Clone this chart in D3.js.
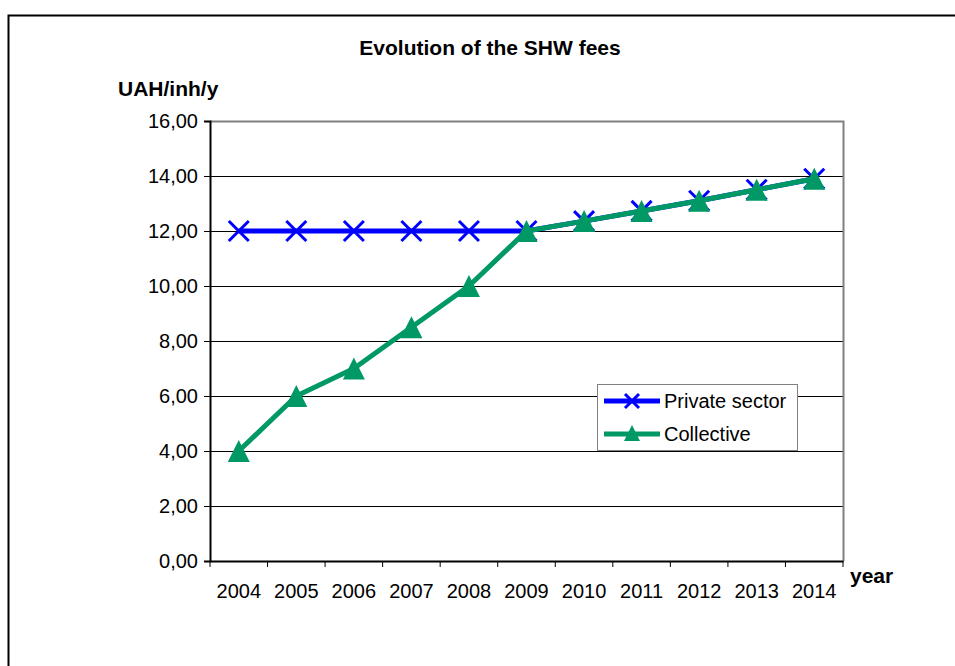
<!DOCTYPE html>
<html>
<head>
<meta charset="utf-8">
<script src="https://cdn.jsdelivr.net/npm/d3@7/dist/d3.min.js"></script>
<style>
  html, body { margin: 0; padding: 0; background: #fff; }
  svg { display: block; font-family: "Liberation Sans", Arial, sans-serif; }
</style>
</head>
<body>
<svg id="chart" width="955" height="666"></svg>
<script>
// Solid household waste fees, UAH per inhabitant per year
const years = ["2004", "2005", "2006", "2007", "2008", "2009", "2010", "2011", "2012", "2013", "2014"];
const privateSector = [12, 12, 12, 12, 12, 12, 12.36, 12.73, 13.1, 13.5, 13.9];
const collective = [4, 6, 7, 8.5, 10, 12, 12.36, 12.73, 13.1, 13.5, 13.9];
const yTicks = [0, 2, 4, 6, 8, 10, 12, 14, 16];

const series = [
  { name: "Private sector", values: privateSector, color: "#0000ff", marker: "x" },
  { name: "Collective", values: collective, color: "#009966", marker: "tri" }
];

const svg = d3.select("#chart");
const plot = { left: 210, right: 843, top: 121, bottom: 561 };
const FONT = "Liberation Sans, Arial, sans-serif";

// outer chart frame
svg.append("rect")
  .attr("x", 8.5).attr("y", 15.5)
  .attr("width", 1000).attr("height", 700)
  .attr("fill", "none").attr("stroke", "#000").attr("stroke-width", 2);

const x = d3.scaleBand().domain(years).range([plot.left, plot.right]).padding(0);
const y = d3.scaleLinear().domain([0, 16]).range([plot.bottom, plot.top]);

// horizontal gridlines
svg.append("g")
  .selectAll("line")
  .data(yTicks.filter(v => v > 0 && v < 16))
  .join("line")
  .attr("x1", plot.left).attr("x2", plot.right)
  .attr("y1", d => Math.round(y(d)) + 0.5).attr("y2", d => Math.round(y(d)) + 0.5)
  .attr("stroke", "#000").attr("stroke-width", 1);

// plot area top/right border
svg.append("path")
  .attr("d", `M${plot.left},${plot.top + 0.5}H${plot.right + 0.5}V${plot.bottom}`)
  .attr("fill", "none").attr("stroke", "#808080").attr("stroke-width", 2);

// y axis
const yAxis = svg.append("g")
  .attr("transform", `translate(${plot.left},0)`)
  .call(d3.axisLeft(y).tickValues(yTicks).tickSize(6).tickPadding(6)
    .tickFormat(d => d3.format(".2f")(d).replace(".", ",")));
yAxis.select(".domain").attr("stroke", "#000").attr("stroke-width", 2);
yAxis.selectAll(".tick line").attr("stroke", "#000");
yAxis.selectAll("text").attr("font-size", 20).attr("fill", "#000")
  .attr("font-family", FONT);

// x axis with ticks at category boundaries
const xAxis = svg.append("g")
  .attr("transform", `translate(0,${plot.bottom})`)
  .call(d3.axisBottom(x).tickSize(0).tickPadding(23));
xAxis.select(".domain").attr("stroke", "#000").attr("stroke-width", 2);
xAxis.selectAll("text").attr("font-size", 20).attr("fill", "#000")
  .attr("font-family", FONT);
xAxis.selectAll("line.boundary")
  .data(d3.range(years.length + 1))
  .join("line")
  .attr("class", "boundary")
  .attr("x1", i => plot.left + i * x.bandwidth()).attr("x2", i => plot.left + i * x.bandwidth())
  .attr("y1", 0).attr("y2", 6)
  .attr("stroke", "#000").attr("stroke-width", 1);

const cx = i => x(years[i]) + x.bandwidth() / 2;
const line = d3.line().x((d, i) => cx(i)).y(d => y(d));

function drawMarker(g, type, color) {
  if (type === "x") {
    g.append("path").attr("d", "M-10,-10L10,10M-10,10L10,-10")
      .attr("stroke", color).attr("stroke-width", 3).attr("fill", "none");
  } else {
    g.append("path").attr("d", "M0,-11L11,11L-11,11Z").attr("fill", color);
  }
}

series.forEach(s => {
  svg.append("path")
    .datum(s.values)
    .attr("d", line)
    .attr("fill", "none").attr("stroke", s.color).attr("stroke-width", 5)
    .attr("stroke-linejoin", "round");
  s.values.forEach((v, i) => {
    const g = svg.append("g").attr("transform", `translate(${cx(i)},${y(v)})`);
    drawMarker(g, s.marker, s.color);
  });
});

// titles
svg.append("text").attr("x", 490).attr("y", 55).attr("text-anchor", "middle")
  .attr("font-size", 21).attr("font-weight", "bold").text("Evolution of the SHW fees");
svg.append("text").attr("x", 118).attr("y", 96)
  .attr("font-size", 21).attr("font-weight", "bold").text("UAH/inh/y");
svg.append("text").attr("x", 850).attr("y", 583)
  .attr("font-size", 21).attr("font-weight", "bold").text("year");

// legend
const legend = svg.append("g");
legend.append("rect")
  .attr("x", 597.5).attr("y", 384.5).attr("width", 200).attr("height", 66)
  .attr("fill", "#fff").attr("stroke", "#808080").attr("stroke-width", 1);
series.forEach((s, i) => {
  const ly = 401 + i * 33;
  legend.append("line").attr("x1", 604).attr("x2", 660).attr("y1", ly).attr("y2", ly)
    .attr("stroke", s.color).attr("stroke-width", 5);
  const g = legend.append("g").attr("transform", `translate(632,${ly})`);
  if (s.marker === "x") {
    g.append("path").attr("d", "M-7,-7L7,7M-7,7L7,-7")
      .attr("stroke", s.color).attr("stroke-width", 3).attr("fill", "none");
  } else {
    g.append("path").attr("d", "M0,-9L8,7L-8,7Z").attr("fill", s.color);
  }
  legend.append("text").attr("x", 664).attr("y", ly + 7)
    .attr("font-size", 20).text(s.name);
});
</script>
</body>
</html>
